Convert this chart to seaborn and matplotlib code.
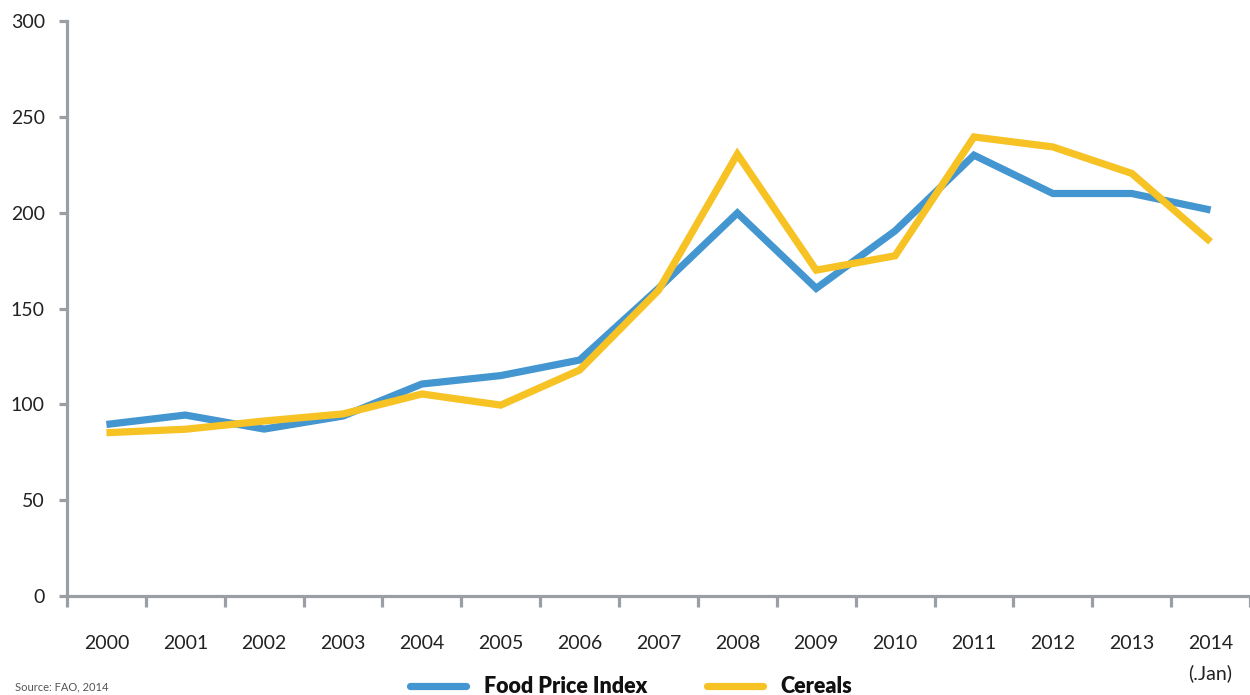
import matplotlib
matplotlib.use("Agg")
import matplotlib.pyplot as plt
from matplotlib.ticker import FixedLocator
import seaborn as sns
import pandas as pd
import numpy as np

years = ["2000", "2001", "2002", "2003", "2004", "2005", "2006", "2007",
         "2008", "2009", "2010", "2011", "2012", "2013", "2014\n(.Jan)"]
food_price_index = [89.5, 94.4, 87.1, 93.9, 110.6, 115.0, 123.1, 160.5,
                    199.8, 160.5, 190.5, 230.0, 210.0, 210.0, 201.4]
cereals = [85.2, 87.0, 91.3, 95.0, 105.4, 99.6, 117.9, 159.5,
           230.5, 170.0, 177.5, 239.5, 234.3, 220.5, 184.8]
series_names = ["Food Price Index", "Cereals"]
colors = ["#4396CF", "#F6C224"]
y_ticks = [0, 50, 100, 150, 200, 250, 300]

sns.set_theme(style="white")
plt.rcParams["font.family"] = ["Lato", "DejaVu Sans"]

pos = np.arange(len(years))
df = pd.DataFrame({
    "pos": np.concatenate([pos, pos]),
    "value": food_price_index + cereals,
    "series": [series_names[0]] * len(years) + [series_names[1]] * len(years),
})

fig = plt.figure(figsize=(12.5, 6.95), dpi=100)
ax = fig.add_axes([67 / 1250, 1 - 596 / 695, 1 - 67 / 1250, (596 - 21) / 695])

sns.lineplot(data=df, x="pos", y="value", hue="series", hue_order=series_names,
             palette=colors, linewidth=5.2, ax=ax, legend=False,
             solid_joinstyle="miter", solid_capstyle="butt")

axis_grey = "#9A9FA5"
ax.set_xlim(-0.5, len(years) - 0.5)
ax.set_ylim(0, 300)
for side in ["top", "right"]:
    ax.spines[side].set_visible(False)
for side in ["left", "bottom"]:
    ax.spines[side].set_color(axis_grey)
    ax.spines[side].set_linewidth(2.3)

ax.set_yticks(y_ticks)
ax.set_yticklabels([str(v) for v in y_ticks])
ax.tick_params(axis="y", direction="out", length=6, width=2.3, color=axis_grey,
               labelsize=14, labelcolor="#222222", pad=10, left=True)

ax.set_xticks(pos)
ax.set_xticklabels(years)
ax.xaxis.set_minor_locator(FixedLocator(np.arange(-0.5, len(years) - 0.4, 1.0)))
ax.tick_params(axis="x", which="major", length=0, labelsize=14,
               labelcolor="#222222", pad=28)
ax.tick_params(axis="x", which="minor", direction="out", length=8, width=2.3,
               color=axis_grey, bottom=True)
for lbl in ax.get_xticklabels():
    lbl.set_linespacing(1.8)
    lbl.set_verticalalignment("top")

ax.set_xlabel("")
ax.set_ylabel("")
ax.grid(False)

handles = [plt.Line2D([0], [0], color=c, linewidth=5.2, solid_capstyle="round")
           for c in colors]
leg = fig.legend(handles, series_names, loc="center", ncol=2,
                 bbox_to_anchor=(0.505, 0.012), frameon=False,
                 prop={"weight": "heavy", "size": 15.5}, handlelength=2.6,
                 handletextpad=0.8, columnspacing=2.8)
for t in leg.get_texts():
    t.set_color("#111111")

fig.text(0.012, 0.003, "Source: FAO, 2014", fontsize=8, color="#555555",
         ha="left", va="bottom")

fig.savefig("out.png", dpi=100)
